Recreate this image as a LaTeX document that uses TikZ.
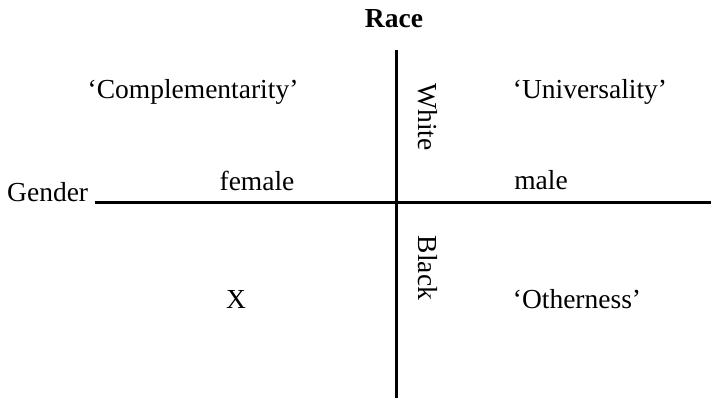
\documentclass[tikz,border=0pt]{standalone}
\usepackage{fontspec}
\setmainfont{Liberation Serif}
\begin{document}
\begin{tikzpicture}[x=1pt,y=-1pt,
  lbl/.style={inner sep=0pt,anchor=base,font=\fontsize{27.5}{32}\selectfont},
  side/.style={inner sep=0pt,anchor=center,rotate=-90,font=\fontsize{27.5}{32}\selectfont},
  axis/.style={line width=3pt}]
\useasboundingbox (0,0) rectangle (711,398);
\node[lbl,font=\fontsize{27.5}{32}\selectfont\bfseries] (race) at (394,28) {Race};
\node[lbl,anchor=base west] (gender) at (7,201) {Gender};
\node[lbl] (compl) at (193,99) {‘Complementarity’};
\node[lbl] (univ) at (590,99) {‘Universality’};
\node[lbl] (female) at (257,190) {female};
\node[lbl] (male) at (541,189) {male};
\node[lbl] (x) at (236,308) {X};
\node[lbl] (other) at (577,308) {‘Otherness’};
\node[side] (white) at (428,117) {White};
\node[side] (black) at (428,268) {Black};
\coordinate (rtop) at (396,50);
\coordinate (rbot) at (396,398);
\coordinate (gl) at (95,202);
\coordinate (gr) at (711,202);
\draw[axis] (rtop) -- (rbot);
\draw[axis] (gl) -- (gr);
\end{tikzpicture}
\end{document}
